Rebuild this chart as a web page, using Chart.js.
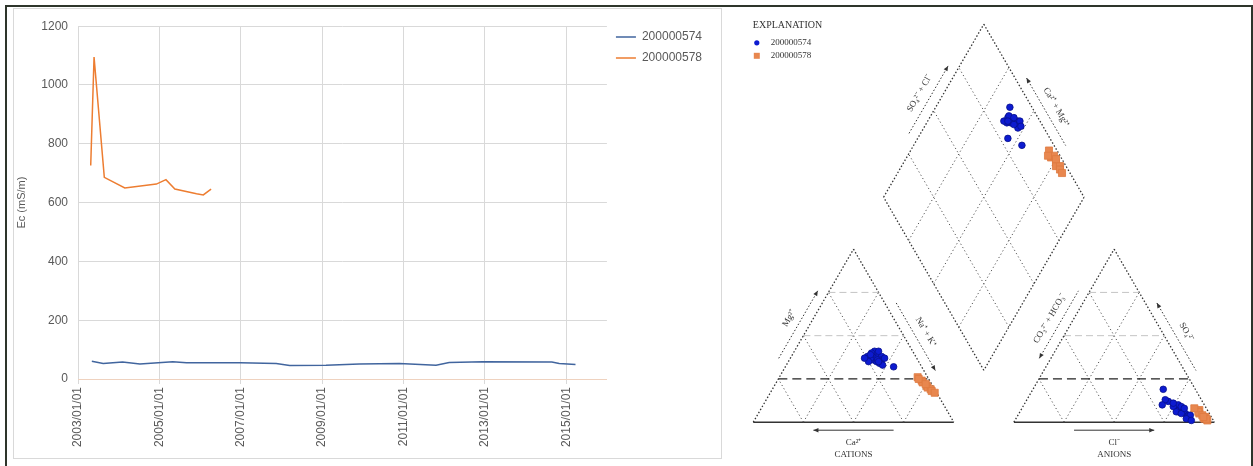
<!DOCTYPE html>
<html>
<head>
<meta charset="utf-8">
<title>Ec and Piper diagram</title>
<script src="https://cdn.jsdelivr.net/npm/chart.js@4.4.1/dist/chart.umd.min.js"></script>
<style>
  html, body { margin: 0; padding: 0; background: #fff; }
  body { position: relative; width: 1253px; height: 466px; overflow: hidden; }
  .frame { position: absolute; left: 5px; top: 5px; width: 1244px; height: 470px;
           border: 2px solid #2e352b; border-bottom: none; }
  .ecbox { position: absolute; left: 13px; top: 8px; width: 709px; height: 451px;
           border: 1px solid #d9d9d9; box-sizing: border-box; }
  #ecWrap { position: absolute; left: 14px; top: 9px; width: 707px; height: 448px; }
  #piperWrap { position: absolute; left: 724px; top: 8px; width: 526px; height: 458px; }
</style>
</head>
<body>
<div class="frame"></div>
<div class="ecbox"></div>
<div id="ecWrap"><canvas id="ecChart"></canvas></div>
<div id="piperWrap"><canvas id="piperChart"></canvas></div>
<script>
const wellIds = ['200000574', '200000578'];

// Ec readings per well (mS/m)
const dates574 = ['2003-05-05', '2003-08-15', '2004-02-05', '2004-07-10', '2005-05-01', '2005-09-01',
  '2006-12-25', '2007-11-15', '2008-03-15', '2009-02-05', '2009-12-01', '2010-11-25',
  '2011-10-20', '2012-02-15', '2012-12-15', '2014-08-25', '2014-10-30', '2015-03-25'];
const ec574 = [60, 53, 58, 51, 59, 55, 55, 53, 46, 47, 51, 53, 47, 56, 59, 58, 53, 49];

const dates578 = ['2003-04-25', '2003-05-25', '2003-08-25', '2004-02-25', '2004-12-05',
  '2005-03-01', '2005-05-20', '2005-11-30', '2006-01-30', '2006-04-10'];
const ec578 = [726, 1095, 686, 650, 663, 678, 646, 630, 626, 646];

const yearTicks = [2003, 2005, 2007, 2009, 2011, 2013, 2015];

// major ions, % meq/L
const ca574 = [20, 18, 22, 19, 21, 17, 23, 20, 24, 18, 21, 16, 22, 19, 25, 20, 17, 14, 20, 26];
const mg574 = [38, 40, 36, 41, 35, 38, 37, 34, 38, 36, 40, 37, 39, 33, 35, 36, 41, 32, 35, 37];
const nak574 = [42, 42, 42, 40, 44, 45, 40, 46, 38, 46, 39, 47, 39, 48, 40, 44, 42, 54, 45, 37];
const hco3_574 = [14, 13, 15, 17, 12, 11, 16, 12, 18, 10, 15, 13, 14, 11, 16, 14, 12, 16, 21, 11];
const so4_574 = [8, 10, 6, 12, 5, 4, 9, 3, 13, 4, 11, 2, 7, 1, 6, 5, 9, 19, 10, 8];
const cl574 = [78, 77, 79, 71, 83, 85, 75, 85, 69, 86, 74, 85, 79, 88, 78, 81, 79, 65, 69, 81];

const ca578 = [5, 4, 4, 3, 3, 2, 2, 5, 3, 1];
const mg578 = [26, 24, 23, 21, 20, 19, 18, 25, 22, 17];
const nak578 = [69, 72, 73, 76, 77, 79, 80, 70, 75, 82];
const hco3_578 = [4, 5, 3, 4, 5, 3, 4, 6, 3, 4];
const so4_578 = [7, 5, 3, 2, 6, 1, 4, 8, 2, 3];
const cl578 = [89, 90, 94, 94, 89, 96, 92, 86, 95, 93];

function decYear(s) {
  const d = new Date(s + 'T00:00:00Z');
  const y = d.getUTCFullYear();
  const a = Date.UTC(y, 0, 1), b = Date.UTC(y + 1, 0, 1);
  return y + (d.getTime() - a) / (b - a);
}
const toPoints = (dates, vals) => dates.map((d, i) => ({ x: decYear(d), y: vals[i] }));

const gray = '#595959';
new Chart(document.getElementById('ecChart'), {
  type: 'line',
  data: {
    datasets: [
      { label: wellIds[0], data: toPoints(dates574, ec574), borderColor: '#41659e',
        backgroundColor: '#41659e', borderWidth: 1.5, pointRadius: 0 },
      { label: wellIds[1], data: toPoints(dates578, ec578), borderColor: '#ED7D31',
        backgroundColor: '#ED7D31', borderWidth: 1.5, pointRadius: 0 }
    ]
  },
  options: {
    responsive: true,
    maintainAspectRatio: false,
    animation: false,
    layout: { padding: { top: 13, right: 9 } },
    plugins: {
      tooltip: { enabled: false },
      legend: {
        position: 'right',
        align: 'start',
        labels: { usePointStyle: true, pointStyle: 'line', pointStyleWidth: 20,
                  color: gray, font: { size: 12 }, padding: 9 }
      }
    },
    scales: {
      x: {
        type: 'linear', min: 2003, max: 2016,
        afterBuildTicks: s => { s.ticks = yearTicks.map(v => ({ value: v })); },
        afterFit: s => { s.height = 78; },
        ticks: { callback: v => v + '/01/01', minRotation: 90, maxRotation: 90,
                 autoSkip: false, color: gray, font: { size: 12 }, padding: 3 },
        grid: { color: '#d9d9d9', tickLength: 5 },
        border: { color: '#efd2bf' }
      },
      y: {
        min: 0, max: 1200,
        afterFit: s => { s.width = 64; },
        ticks: { stepSize: 200, callback: v => String(v), color: gray, font: { size: 12 }, padding: 10 },
        grid: { color: '#d9d9d9', drawTicks: false },
        border: { display: false },
        title: { display: true, text: 'Ec (mS/m)', color: gray, font: { size: 11 },
                 padding: { top: 1, bottom: 0 } }
      }
    }
  }
});

// Piper geometry: triangle side S, gap between triangles GAP (plot units)
const S = 100, GAP = 30, H = Math.sqrt(3) / 2;
const pt = (x, y) => ({ x, y });
const cA = pt(0, 0), cB = pt(S, 0), cC = pt(S / 2, S * H);
const aA = pt(S + GAP, 0), aB = pt(2 * S + GAP, 0), aC = pt(S + GAP + S / 2, S * H);
const dBot = pt(S + GAP / 2, GAP * H);
const dL = pt(dBot.x - S / 2, dBot.y + S * H);
const dR = pt(dBot.x + S / 2, dBot.y + S * H);
const dT = pt(dBot.x, dBot.y + 2 * S * H);
const lerp = (p, q, k) => pt(p.x + (q.x - p.x) * k, p.y + (q.y - p.y) * k);
const quarters = [0.25, 0.5, 0.75];

function cationXY(ca, mg, nak) {
  const t = ca + mg + nak, m = mg / t * S, n = nak / t * S;
  return pt(n + m / 2, m * H);
}
function anionXY(hco3, so4, cl) {
  const t = hco3 + so4 + cl, s = so4 / t * S, c = cl / t * S;
  return pt(S + GAP + c + s / 2, s * H);
}
function diamondXY(ca, mg, nak, hco3, so4, cl) {
  const a = nak / (ca + mg + nak), h = hco3 / (hco3 + so4 + cl);
  const t = 2 * S + GAP - S * a - S * h;
  return pt(S * a + t / 2, t * H);
}
function wellPoints(ca, mg, nak, hco3, so4, cl) {
  const out = [];
  ca.forEach((_, i) => {
    out.push(cationXY(ca[i], mg[i], nak[i]));
    out.push(anionXY(hco3[i], so4[i], cl[i]));
    out.push(diamondXY(ca[i], mg[i], nak[i], hco3[i], so4[i], cl[i]));
  });
  return out;
}

const edgeSegs = [[cA, cC], [cC, cB], [aA, aC], [aC, aB], [dBot, dL], [dL, dT], [dT, dR], [dR, dBot]];
const baseSegs = [[cA, cB], [aA, aB]];
const gridSegs = [], quarterSegs = [], halfSegs = [];
[[cA, cB, cC], [aA, aB, aC]].forEach(([A, B, C]) => {
  quarters.forEach(k => {
    const hz = [lerp(A, C, k), lerp(B, C, k)];
    (k === 0.25 ? quarterSegs : halfSegs).push(hz);
    gridSegs.push([lerp(A, B, k), lerp(B, C, 1 - k)]);
    gridSegs.push([lerp(A, B, k), lerp(A, C, k)]);
  });
});
quarters.forEach(k => {
  gridSegs.push([lerp(dBot, dR, k), lerp(dL, dT, k)]);
  gridSegs.push([lerp(dBot, dL, k), lerp(dR, dT, k)]);
});
const segData = segs => segs.flatMap(s => [s[0], s[1], { x: null, y: null }]);
const lineSet = (segs, color, width, dash) => ({
  data: segData(segs), showLine: true, spanGaps: false, pointRadius: 0,
  borderColor: color, borderWidth: width, borderDash: dash
});

const blueFill = '#0d1bd0', orangeFill = '#e8874f';
const serif = "'Liberation Serif', 'Times New Roman', serif";

function arrowHead(ctx, tip, dx, dy) {
  ctx.beginPath();
  ctx.moveTo(tip.x, tip.y);
  ctx.lineTo(tip.x - dx * 5 - dy * 2.2, tip.y - dy * 5 + dx * 2.2);
  ctx.lineTo(tip.x - dx * 5 + dy * 2.2, tip.y - dy * 5 - dx * 2.2);
  ctx.closePath();
  ctx.fill();
}

const sideLabels = [
  { from: cA, to: cC, text: 'Mg\u00B2\u207A', head: 'end' },
  { from: cC, to: cB, text: 'Na\u207A + K\u207A', head: 'end' },
  { from: aA, to: aC, text: 'CO\u2083\u00B2\u207B + HCO\u2083\u207B', head: 'start' },
  { from: aC, to: aB, text: 'SO\u2084\u00B2\u207B', head: 'start' },
  { from: dL, to: dT, text: 'SO\u2084\u00B2\u207B + Cl\u207B', head: 'end' },
  { from: dT, to: dR, text: 'Ca\u00B2\u207A + Mg\u00B2\u207A', head: 'start' }
];
const baseLabels = [
  { x0: 0, ion: 'Ca\u00B2\u207A', group: 'CATIONS', head: 'start' },
  { x0: S + GAP, ion: 'Cl\u207B', group: 'ANIONS', head: 'end' }
];

const piperText = {
  id: 'piperText',
  afterDatasetsDraw(chart) {
    const ctx = chart.ctx, xs = chart.scales.x, ys = chart.scales.y;
    const P = p => pt(xs.getPixelForValue(p.x), ys.getPixelForValue(p.y));
    ctx.save();
    ctx.fillStyle = '#333';
    ctx.strokeStyle = '#333';
    ctx.lineWidth = 1;
    ctx.textAlign = 'center';
    ctx.textBaseline = 'middle';
    ctx.font = '9px ' + serif;

    sideLabels.forEach(sd => {
      const p0 = P(sd.from), p1 = P(sd.to);
      const len = Math.hypot(p1.x - p0.x, p1.y - p0.y);
      const dx = (p1.x - p0.x) / len, dy = (p1.y - p0.y) / len;
      const nx = dy, ny = -dx;
      const at = (f, off) => pt(p0.x + dx * len * f + nx * off, p0.y + dy * len * f + ny * off);
      const s = at(0.34, 10), e = at(0.73, 10);
      ctx.setLineDash([1.5, 2]);
      ctx.beginPath(); ctx.moveTo(s.x, s.y); ctx.lineTo(e.x, e.y); ctx.stroke();
      ctx.setLineDash([]);
      if (sd.head === 'end') arrowHead(ctx, e, dx, dy); else arrowHead(ctx, s, -dx, -dy);
      const c = at(0.54, 21);
      ctx.save();
      ctx.translate(c.x, c.y);
      ctx.rotate(Math.atan2(dy, dx));
      ctx.fillText(sd.text, 0, 0);
      ctx.restore();
    });

    baseLabels.forEach(b => {
      const s = P(pt(b.x0 + S * 0.3, 0)), e = P(pt(b.x0 + S * 0.7, 0));
      const y = s.y + 8;
      ctx.beginPath(); ctx.moveTo(s.x, y); ctx.lineTo(e.x, y); ctx.stroke();
      if (b.head === 'start') arrowHead(ctx, pt(s.x, y), -1, 0); else arrowHead(ctx, pt(e.x, y), 1, 0);
      const cx = (s.x + e.x) / 2;
      ctx.fillText(b.ion, cx, s.y + 20);
      ctx.fillText(b.group, cx, s.y + 32);
    });

    // explanation block
    const L = chart.chartArea.left, T = chart.chartArea.top;
    ctx.textAlign = 'left';
    ctx.font = '10px ' + serif;
    ctx.fillText('EXPLANATION', L + 23, T + 12);
    ctx.font = '9px ' + serif;
    ctx.fillStyle = blueFill;
    ctx.beginPath(); ctx.arc(L + 27, T + 29, 2.6, 0, Math.PI * 2); ctx.fill();
    ctx.fillStyle = orangeFill;
    ctx.fillRect(L + 24, T + 39, 6, 6);
    ctx.fillStyle = '#333';
    ctx.fillText(wellIds[0], L + 41, T + 29);
    ctx.fillText(wellIds[1], L + 41, T + 42);
    ctx.restore();
  }
};

// canvas 526 x 458 px; plot origin at (24, 419) px, 2.05 px per unit
const PPU = 2.05;
new Chart(document.getElementById('piperChart'), {
  type: 'scatter',
  data: {
    datasets: [
      { label: wellIds[0], data: wellPoints(ca574, mg574, nak574, hco3_574, so4_574, cl574),
        pointStyle: 'circle', pointRadius: 3.3, backgroundColor: blueFill,
        borderColor: '#07108c', borderWidth: 0.8 },
      { label: wellIds[1], data: wellPoints(ca578, mg578, nak578, hco3_578, so4_578, cl578),
        pointStyle: 'rect', pointRadius: 5, backgroundColor: orangeFill,
        borderColor: '#de7a40', borderWidth: 0.8 },
      lineSet(quarterSegs, '#222', 1.3, [9, 5]),
      lineSet(halfSegs, '#c4c4c4', 1, [7, 4]),
      lineSet(gridSegs, '#555', 1, [1.2, 2.6]),
      lineSet(baseSegs, '#333', 1.4, []),
      lineSet(edgeSegs, '#333', 1.3, [1.5, 2])
    ]
  },
  options: {
    responsive: true,
    maintainAspectRatio: false,
    animation: false,
    layout: { padding: 0 },
    plugins: { legend: { display: false }, tooltip: { enabled: false } },
    scales: {
      x: { type: 'linear', display: false, min: -24 / PPU, max: (526 - 24) / PPU },
      y: { type: 'linear', display: false, min: -(458 - 419) / PPU, max: 419 / PPU }
    }
  },
  plugins: [piperText]
});
</script>
</body>
</html>
